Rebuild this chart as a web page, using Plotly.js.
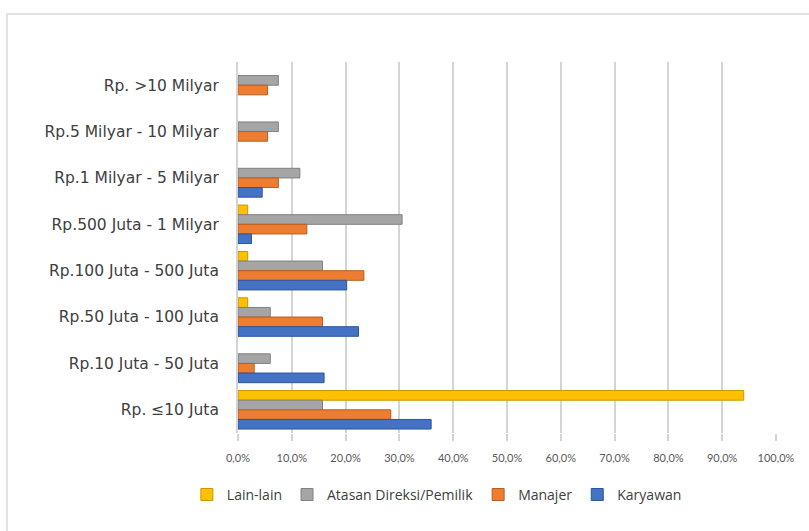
<!DOCTYPE html>
<html>
<head>
<meta charset="utf-8">
<script src="https://cdn.plot.ly/plotly-3.0.1.min.js"></script>
<style>
html,body{margin:0;padding:0;background:#fff;overflow:hidden;}
#chart{position:absolute;left:0;top:0;width:809px;height:531px;}
#frame{position:absolute;left:6px;top:13px;width:840px;height:560px;border:2px solid #e2e2e2;pointer-events:none;}
</style>
</head>
<body>
<div id="chart"></div>
<div id="frame"></div>
<script>
// Categories listed top to bottom
var categories = [
  "Rp. >10 Milyar",
  "Rp.5 Milyar - 10 Milyar",
  "Rp.1 Milyar - 5 Milyar",
  "Rp.500 Juta - 1 Milyar",
  "Rp.100 Juta - 500 Juta",
  "Rp.50 Juta - 100 Juta",
  "Rp.10 Juta - 50 Juta",
  "Rp. \u226410 Juta"
];
var seriesNames = ["Lain-lain", "Atasan Direksi/Pemilik", "Manajer", "Karyawan"];
var lainLain  = [0,   0,   0,    1.8, 1.8,  1.8,  0,    94.0];
var atasan    = [7.5, 7.5, 11.5, 30.5, 15.7, 6.0, 6.0,  15.7];
var manajer   = [5.5, 5.5, 7.5,  12.8, 23.4, 15.7, 3.0, 28.4];
var karyawan  = [0,   0,   4.5,  2.5,  20.2, 22.4, 16.0, 35.9];
var tickVals  = [0,10,20,30,40,50,60,70,80,90,100];
var tickText  = ["0,0%","10,0%","20,0%","30,0%","40,0%","50,0%","60,0%","70,0%","80,0%","90,0%","100,0%"];

var colors = ["#FFC000", "#A5A5A5", "#ED7D31", "#4472C4"];
var edges  = ["#C99700", "#808080", "#B95E20", "#2F5597"];
var values = [lainLain, atasan, manajer, karyawan];

var traces = values.map(function(v, i){
  return {
    type: "bar",
    orientation: "h",
    name: seriesNames[i],
    y: categories,
    x: v.map(function(d){ return d === 0 ? null : d; }),
    marker: {color: colors[i], line: {color: edges[i], width: 1}},
    hoverinfo: "x+y+name"
  };
});

var layout = {
  width: 809, height: 531,
  paper_bgcolor: "#ffffff",
  plot_bgcolor: "#ffffff",
  margin: {l: 238, r: 33, t: 62, b: 98},
  barmode: "group",
  bargap: 0.17,
  bargroupgap: 0,
  font: {family: "'DejaVu Sans', sans-serif", color: "#404040"},
  xaxis: {
    range: [0, 100],
    tickmode: "array",
    tickvals: tickVals,
    ticktext: tickText,
    showgrid: true,
    gridcolor: "#d4d4d4",
    gridwidth: 2,
    zeroline: false,
    showline: false,
    ticks: "outside",
    ticklen: 7,
    tickwidth: 2,
    tickcolor: "#d4d4d4",
    ticklabelstandoff: 8,
    tickfont: {family: "Lato, sans-serif", size: 11, color: "#595959"}
  },
  yaxis: {
    autorange: "reversed",
    type: "category",
    showgrid: false,
    zeroline: false,
    showline: true,
    linecolor: "#d4d4d4",
    linewidth: 2,
    ticks: "",
    ticklabelstandoff: 14,
    tickfont: {family: "'DejaVu Sans', sans-serif", size: 15.5, color: "#404040"}
  },
  legend: {
    orientation: "h",
    xref: "container", yref: "container",
    x: 0.54, xanchor: "center",
    y: 0.068, yanchor: "middle",
    font: {family: "'Open Sans', sans-serif", size: 14, color: "#404040"},
    itemwidth: 30,
    tracegroupgap: 0
  },
  showlegend: true
};

Plotly.newPlot("chart", traces, layout, {displayModeBar: false, staticPlot: true});
</script>
</body>
</html>
